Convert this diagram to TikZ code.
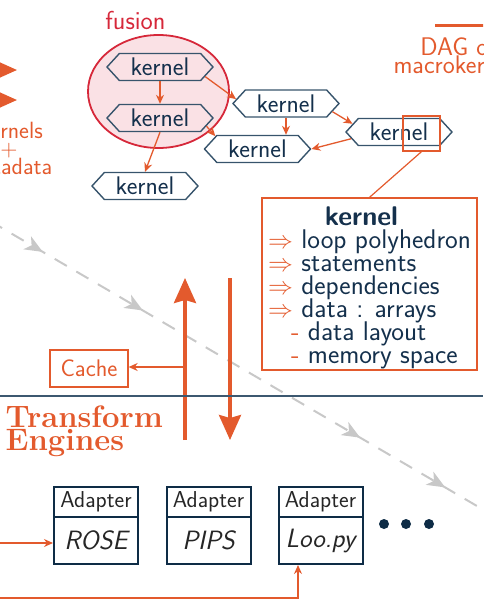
\documentclass[tikz,border=0pt]{standalone}
\usepackage{fontspec}
\usetikzlibrary{arrows.meta,shapes.geometric,shapes.symbols,decorations.markings}
\definecolor{orn}{RGB}{227,90,45}
\definecolor{fred}{RGB}{214,40,58}
\definecolor{fpink}{RGB}{250,225,229}
\definecolor{navy}{RGB}{20,48,76}
\definecolor{hexc}{RGB}{55,84,108}
\definecolor{dgray}{RGB}{200,200,200}
\definecolor{linec}{RGB}{60,88,112}
\definecolor{boxc}{RGB}{14,44,70}
\newcommand\rowtxt[1]{\smash{#1}}
\begin{document}
\begin{tikzpicture}[x=1pt,y=-1pt,
  kern/.style={signal, signal from=nowhere, signal to=east and west, signal pointer angle=95,
    draw=hexc, line width=1.4pt, minimum width=106pt, minimum height=27pt,
    inner sep=0pt, text=navy, font=\sffamily\fontsize{25.5}{27}\selectfont},
  thinarr/.style={draw=orn, line width=1.3pt, -{Stealth[length=9pt,width=8pt]}},
  bigarr/.style={draw=orn, line width=3.5pt, -{Stealth[length=25pt,width=22pt,inset=3pt]}},
  olab/.style={text=orn, inner sep=0pt, align=center},
  adtop/.style={draw=boxc, line width=2pt, minimum width=84pt, minimum height=30pt,
    inner sep=0pt, text=black!85, font=\sffamily\fontsize{23}{24}\selectfont},
  adbot/.style={draw=boxc, line width=2pt, minimum width=84pt, minimum height=47pt,
    inner sep=0pt, text=black!85, font=\sffamily\itshape\fontsize{26.5}{27}\selectfont},
  dotn/.style={circle, fill=boxc, inner sep=0pt, minimum size=10pt}
]
\useasboundingbox (0,0) rectangle (483,616);
\clip (0,0) rectangle (483,616);

% gray dashed flow
\coordinate (g1) at (-10,221);
\coordinate (g2) at (493,515.4);
\draw[dgray, line width=2pt, dash pattern=on 14pt off 11pt,
  postaction={decorate},
  decoration={markings,
    mark=at position 0.105 with {\arrow{Stealth[length=18pt,width=15pt,inset=5pt]}},
    mark=at position 0.304 with {\arrow{Stealth[length=18pt,width=15pt,inset=5pt]}},
    mark=at position 0.736 with {\arrow{Stealth[length=18pt,width=15pt,inset=5pt]}},
    mark=at position 0.905 with {\arrow{Stealth[length=18pt,width=15pt,inset=5pt]}}}] (g1) -- (g2);

% left partial labels
\coordinate (la1s) at (-40,70); \coordinate (la1e) at (17,70);
\coordinate (la2s) at (-40,100); \coordinate (la2e) at (17,100);
\draw[bigarr] (la1s) -- (la1e);
\draw[bigarr] (la2s) -- (la2e);
\node[olab, anchor=north, font=\sffamily\fontsize{23.5}{17.5}\selectfont] (kmeta) at (9,122) {Kernels\\+\\metadata};

% top right
\coordinate (tl1) at (435,25); \coordinate (tl2) at (500,25);
\draw[orn, line width=3pt] (tl1) -- (tl2);
\node[olab, anchor=north, font=\sffamily\fontsize{25.5}{18}\selectfont] (dag) at (458,37) {DAG of\\macrokernels};

% fusion
\node[ellipse, draw=fred, fill=fpink, line width=1.8pt, minimum width=141pt, minimum height=113pt] (fus) at (158.5,91.5) {};
\node[text=fred, inner sep=0pt, font=\sffamily\fontsize{26}{27}\selectfont] (fuslab) at (135.5,20.5) {fusion};

% kernels
\node[kern] (k1) at (160,67) {kernel};
\node[kern] (k2) at (160,118) {kernel};
\node[kern] (k3) at (145,186) {kernel};
\node[kern] (k4) at (286,103.5) {kernel};
\node[kern] (k5) at (257.5,149) {kernel};
\node[kern] (k6) at (399,132) {kernel};

\draw[thinarr] (k1.south) -- (k2.north);
\draw[thinarr] (k1.-12) -- (k4.175);
\draw[thinarr] (k2.-10) -- (k5.163);
\draw[thinarr] (k2.south) -- (k3.north);
\draw[thinarr] (k4.south) -- (k4.south |- k5.north);
\draw[thinarr] (k4.-10) -- (k6.170);
\draw[thinarr] (k6.188) -- (k5.east);

% highlight + info box
\node[draw=orn, line width=1.3pt, minimum width=37pt, minimum height=35pt, inner sep=0pt] (hl) at (421.5,133.5) {};
\node[draw=orn, line width=1.3pt, minimum width=215pt, minimum height=172pt, inner sep=0pt,
  text=navy, font=\sffamily\fontsize{27}{23}\selectfont] (info) at (369.5,284) {%
  \begin{tabular}{@{}l@{}}
  \multicolumn{1}{@{}c@{\hspace{16pt}}}{\rule{0pt}{27pt}\rowtxt{\bfseries kernel}}\\
  \rowtxt{{\color{orn}$\Rightarrow$} loop polyhedron}\\
  \rowtxt{{\color{orn}$\Rightarrow$} statements}\\
  \rowtxt{{\color{orn}$\Rightarrow$} dependencies}\\
  \rowtxt{{\color{orn}$\Rightarrow$} data : arrays}\\
  \rowtxt{\hspace*{23pt}{\color{orn}-} data layout}\\
  \rowtxt{\hspace*{23pt}{\color{orn}-} memory space}
  \end{tabular}};
\draw[orn, line width=1.2pt] (hl.south) -- (info.north);

% big arrows
\coordinate (upS) at (185,440); \coordinate (upE) at (185,278);
\coordinate (dnS) at (230,278); \coordinate (dnE) at (230,440);
\draw[bigarr] (upS) -- (upE);
\draw[bigarr] (dnS) -- (dnE);

% cache
\node[draw=orn, line width=1.3pt, minimum width=78pt, minimum height=37pt, inner sep=0pt,
  text=orn, font=\sffamily\fontsize{24}{24}\selectfont] (cache) at (89,368.5) {Cache};
\coordinate (cj) at (185,367);
\draw[thinarr] (cj) -- (cj -| cache.east);

% divider
\coordinate (dv1) at (0,396); \coordinate (dv2) at (483,396);
\draw[linec, line width=1.5pt] (dv1) -- (dv2);

\node[olab, anchor=north west, align=left, font=\rmfamily\bfseries\fontsize{31}{23}\selectfont] (te) at (5.5,406) {Transform\\Engines};

% adapters
\node[adtop] (roseA) at (96,502) {Adapter};
\node[adbot] (rose) at (96,540.5) {ROSE};
\node[adtop] (pipsA) at (208.5,502) {Adapter};
\node[adbot] (pips) at (208.5,540.5) {PIPS};
\node[adtop] (loopyA) at (320.5,502) {Adapter};
\node[adbot] (loopy) at (320.5,540.5) {Loo.py};

\node[dotn] (d1) at (384,524) {};
\node[dotn] (d2) at (406,524) {};
\node[dotn] (d3) at (429,524) {};

\coordinate (in1) at (-5,543);
\draw[thinarr] (in1) -- (in1 -| rose.west);
\coordinate (in2) at (-5,598); \coordinate (turn) at (298,598);
\draw[thinarr] (in2) -- (turn) -- (turn |- loopy.south);
\end{tikzpicture}
\end{document}
